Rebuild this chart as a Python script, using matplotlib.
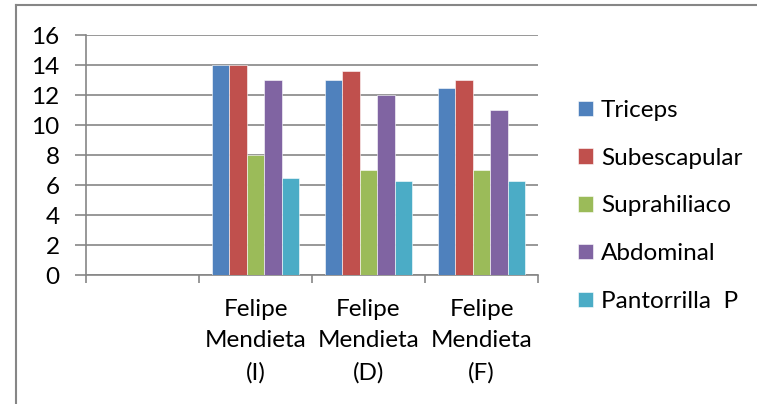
import numpy as np
import matplotlib.pyplot as plt
from matplotlib.lines import Line2D

# data
categories = ['', 'Felipe\nMendieta\n(I)', 'Felipe\nMendieta\n(D)', 'Felipe\nMendieta\n(F)']
series = ['Triceps', 'Subescapular', 'Suprahiliaco', 'Abdominal', 'Pantorrilla  P']
triceps = [0, 14, 13, 12.5]
subescapular = [0, 14, 13.6, 13]
suprahiliaco = [0, 8, 7, 7]
abdominal = [0, 13, 12, 11]
pantorrilla = [0, 6.5, 6.3, 6.3]
values = [triceps, subescapular, suprahiliaco, abdominal, pantorrilla]
colors = ['#4F81BD', '#C0504D', '#9BBB59', '#8064A2', '#4BACC6']

plt.rcParams['font.family'] = ['Lato', 'DejaVu Sans']
grid_c = '#868686'

fig = plt.figure(figsize=(7.57, 4.04), dpi=100)
ax = fig.add_axes([86 / 757, 1 - 275 / 404, 452 / 757, 240 / 404])

x = np.arange(len(categories))
w = 1 / 6.5
for i, (name, vals, c) in enumerate(zip(series, values, colors)):
    ax.bar(x + (i - 2) * w, vals, w, color=c, label=name, zorder=3,
           edgecolor='white', linewidth=0.4)

ax.set_xlim(-0.5, len(categories) - 0.5)
ax.set_ylim(0, 16)
ax.set_yticks(range(0, 17, 2))
ax.grid(axis='y', color=grid_c, linewidth=1.2, zorder=0)

# category labels centred, tick marks at category boundaries
ax.set_xticks(x)
ax.set_xticklabels(categories, fontsize=17.5, linespacing=1.62)
ax.tick_params(axis='x', which='major', length=0, pad=17)
ax.set_xticks(np.arange(-0.5, len(categories)), minor=True)
ax.tick_params(axis='x', which='minor', length=6, width=1.2, color=grid_c)
ax.tick_params(axis='y', length=8, width=1.2, color=grid_c, labelsize=17.5, pad=11)

for s in ['top', 'right']:
    ax.spines[s].set_visible(False)
for s in ['left', 'bottom']:
    ax.spines[s].set_color(grid_c)
    ax.spines[s].set_linewidth(1.2)

ax.legend(loc='center left', bbox_to_anchor=(578 / 757, 1 - 206 / 404),
          bbox_transform=fig.transFigure, frameon=False, fontsize=17.5,
          handlelength=0.6, handleheight=0.6, handletextpad=0.35,
          labelspacing=1.1, borderpad=0, borderaxespad=0)

# outer chart frame (only top and left edges show)
fig.add_artist(Line2D([16 / 757, 1], [1 - 5 / 404, 1 - 5 / 404], color=grid_c, linewidth=1.5))
fig.add_artist(Line2D([16 / 757, 16 / 757], [0, 1 - 5 / 404], color=grid_c, linewidth=1.5))

fig.savefig('out.png', dpi=100)
